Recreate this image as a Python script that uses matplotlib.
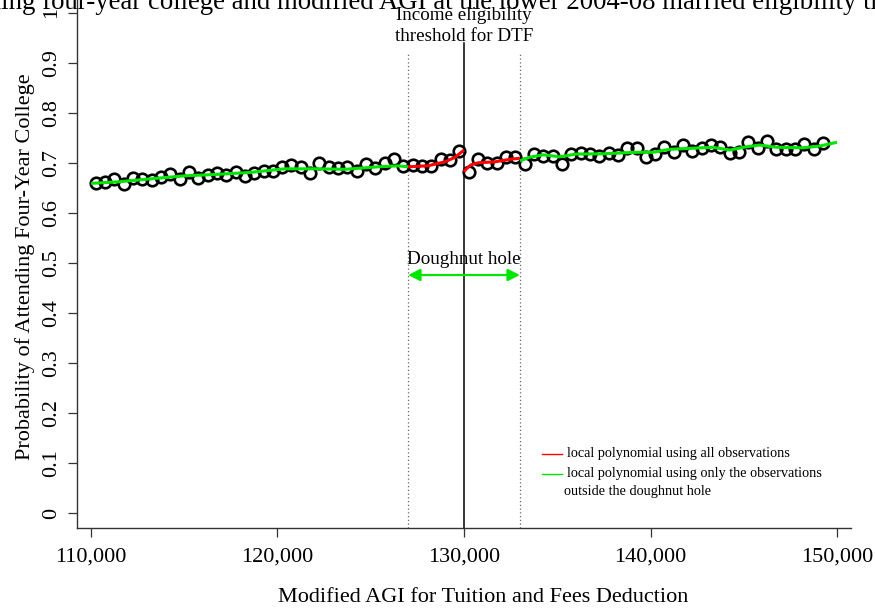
import matplotlib
matplotlib.use("Agg")
import matplotlib.pyplot as plt
from matplotlib.lines import Line2D

plt.rcParams['font.family'] = ['Liberation Serif', 'DejaVu Serif']

# ---------------- data ----------------
agi_left = [110250, 110750, 111250, 111750, 112250, 112750, 113250, 113750, 114250, 114750,
            115250, 115750, 116250, 116750, 117250, 117750, 118250, 118750, 119250, 119750,
            120250, 120750, 121250, 121750, 122250, 122750, 123250, 123750, 124250, 124750,
            125250, 125750, 126250, 126750, 127250, 127750, 128250, 128750, 129250, 129750]
prob_left = [0.659, 0.661, 0.667, 0.657, 0.670, 0.667, 0.666, 0.671, 0.678, 0.668,
             0.681, 0.669, 0.676, 0.680, 0.676, 0.682, 0.674, 0.680, 0.684, 0.684,
             0.692, 0.695, 0.692, 0.680, 0.700, 0.692, 0.690, 0.692, 0.683, 0.698,
             0.689, 0.699, 0.707, 0.694, 0.695, 0.694, 0.693, 0.708, 0.705, 0.723]

agi_right = [130250, 130750, 131250, 131750, 132250, 132750, 133250, 133750, 134250, 134750,
             135250, 135750, 136250, 136750, 137250, 137750, 138250, 138750, 139250, 139750,
             140250, 140750, 141250, 141750, 142250, 142750, 143250, 143750, 144250, 144750,
             145250, 145750, 146250, 146750, 147250, 147750, 148250, 148750, 149250]
prob_right = [0.681, 0.707, 0.700, 0.700, 0.712, 0.712, 0.698, 0.718, 0.713, 0.713,
              0.697, 0.718, 0.720, 0.718, 0.714, 0.719, 0.716, 0.730, 0.730, 0.711,
              0.717, 0.732, 0.721, 0.735, 0.724, 0.730, 0.736, 0.731, 0.719, 0.722,
              0.742, 0.730, 0.744, 0.728, 0.728, 0.728, 0.737, 0.727, 0.739]

# local polynomial fits
green_left_x = [110000, 111450, 113200, 115000, 116800, 118600, 119850, 120400, 121300,
                122200, 123600, 125400, 126450, 127000]
green_left_y = [0.659, 0.662, 0.668, 0.674, 0.677, 0.681, 0.686, 0.688, 0.688,
                0.688, 0.687, 0.692, 0.694, 0.692]
red_left_x = [127000, 128060, 128980, 129520, 130000]
red_left_y = [0.692, 0.694, 0.702, 0.711, 0.7255]
red_right_x = [130000, 130100, 130380, 130750, 131660, 132550, 133000]
red_right_y = [0.682, 0.687, 0.696, 0.700, 0.702, 0.7075, 0.709]
green_right_x = [133000, 133500, 134250, 135130, 136020, 137450, 139240, 140130, 141030,
                 142810, 143350, 144250, 145140, 145860, 146750, 148180, 149080, 150000]
green_right_y = [0.704, 0.711, 0.716, 0.712, 0.7175, 0.718, 0.721, 0.721, 0.727,
                 0.730, 0.731, 0.7255, 0.732, 0.7355, 0.731, 0.730, 0.7335, 0.741]

threshold = 130000
hole_low, hole_high = 127000, 133000
x_ticks = [110000, 120000, 130000, 140000, 150000]
x_ticklabels = ['110,000', '120,000', '130,000', '140,000', '150,000']
y_ticks = [0, 0.1, 0.2, 0.3, 0.4, 0.5, 0.6, 0.7, 0.8, 0.9, 1.0]
y_ticklabels = ['0', '0.1', '0.2', '0.3', '0.4', '0.5', '0.6', '0.7', '0.8', '0.9', '1']

title_text = ("Relationship between attending four-year college and modified AGI "
              "at the lower 2004-08 married eligibility threshold")
title_hidden_prefix = "Relationship between attend"

RED = '#ff0000'
GREEN = '#00e600'

# ---------------- figure ----------------
W, H = 875, 612
fig = plt.figure(figsize=(W / 100, H / 100), dpi=100)
ax_l, ax_r, ax_b, ax_t = 77, 851, 528, -2.5
ax = fig.add_axes([ax_l / W, 1 - ax_b / H, (ax_r - ax_l) / W, (ax_b - ax_t) / H])
ax.set_xlim(109250, 150750)
ax.set_ylim(-0.029, 1.030)

for s in ['top', 'right']:
    ax.spines[s].set_visible(False)
for s in ['left', 'bottom']:
    ax.spines[s].set_color('#333333')
    ax.spines[s].set_linewidth(1.0)

ax.set_xticks(x_ticks)
ax.set_xticklabels(x_ticklabels, fontsize=16)
ax.set_yticks(y_ticks)
ax.set_yticklabels(y_ticklabels, fontsize=16, rotation=90, va='center')
ax.tick_params(axis='both', direction='out', length=6.3, width=0.9, color='#333333')
ax.tick_params(axis='x', pad=8)
ax.tick_params(axis='y', pad=5)

ax.set_xlabel('Modified AGI for Tuition and Fees Deduction', fontsize=16, va='center')
ax.xaxis.set_label_coords((483 - ax_l) / (ax_r - ax_l), (ax_b - 598) / (ax_b - ax_t))
ax.set_ylabel('Probability of Attending Four-Year College', fontsize=16, va='center')
ax.yaxis.set_label_coords((25 - ax_l) / (ax_r - ax_l), (ax_b - 267) / (ax_b - ax_t))

# reference lines
ylo = ax.get_ylim()[0]
ax.plot([threshold, threshold], [ylo, 0.939], color='black', lw=1.1, zorder=2)
for xv in (hole_low, hole_high):
    ax.plot([xv, xv], [ylo, 0.920], color='#666666', lw=0.9, ls=(0, (1, 2)), zorder=2)

# points
ax.plot(agi_left + agi_right, prob_left + prob_right, ls='none', marker='o',
        ms=8.3, mew=1.9, mfc='none', mec='black', zorder=3)

# fitted curves
ax.plot(red_left_x, red_left_y, color=RED, lw=2.2, zorder=4, solid_capstyle='butt')
ax.plot(red_right_x, red_right_y, color=RED, lw=2.2, zorder=4, solid_capstyle='butt')
ax.plot(green_left_x, green_left_y, color=GREEN, lw=2.2, zorder=5, solid_capstyle='butt')
ax.plot(green_right_x, green_right_y, color=GREEN, lw=2.2, zorder=5, solid_capstyle='butt')

# annotations
ax.text(threshold, 0.985, 'Income eligibility', ha='center', va='baseline', fontsize=13.7)
ax.text(threshold, 0.944, 'threshold for DTF', ha='center', va='baseline', fontsize=13.7)
ax.text(threshold, 0.498, 'Doughnut hole', ha='center', va='baseline', fontsize=13.7)
ax.annotate('', xy=(hole_low, 0.476), xytext=(hole_high, 0.476),
            arrowprops=dict(arrowstyle='<|-|>', color=GREEN, lw=1.6,
                            mutation_scale=18, shrinkA=0, shrinkB=0))

# legend (manual, R style)
def fx(px):
    return px / W

def fy(py):
    return 1 - py / H

fig.add_artist(Line2D([fx(542), fx(562)], [fy(454), fy(454)], color=RED, lw=1.0))
fig.add_artist(Line2D([fx(542), fx(562)], [fy(474), fy(474)], color=GREEN, lw=1.0))
fig.text(fx(567), fy(454), 'local polynomial using all observations',
         fontsize=10.3, va='center', ha='left')
fig.text(fx(567), fy(474), 'local polynomial using only the observations',
         fontsize=10.3, va='center', ha='left')
fig.text(fx(564), fy(492), 'outside the doughnut hole',
         fontsize=10.3, va='center', ha='left')

# title (cropped at the top of the picture)
title_size = 19.3
renderer = fig.canvas.get_renderer()
probe = fig.text(0, 0, title_hidden_prefix, fontsize=title_size)
w_prefix = probe.get_window_extent(renderer=renderer).width
probe.remove()
fig.text((1 - w_prefix) / W, fy(9), title_text, fontsize=title_size,
         ha='left', va='baseline')

fig.savefig('out.png', dpi=100)
